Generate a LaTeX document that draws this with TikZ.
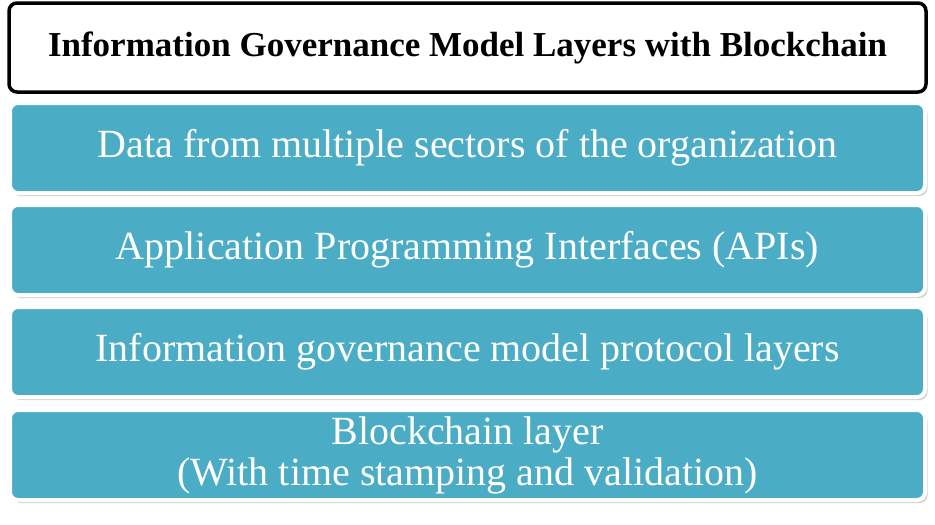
\documentclass[tikz,border=0pt]{standalone}
\usepackage{fontspec}
\setmainfont{Liberation Serif}
\usetikzlibrary{shadows}
\definecolor{layerblue}{HTML}{4BACC6}

\begin{document}
\begin{tikzpicture}[x=1pt, y=-1pt,
	titlebox/.style={draw=black, line width=3.5pt, rounded corners=8pt, fill=white,
		minimum width=917pt, minimum height=89pt, inner sep=0pt,
		font=\fontsize{35}{40}\selectfont\bfseries},
	layerbox/.style={draw=white, line width=4pt, rounded corners=8pt, fill=layerblue,
		minimum width=915pt, minimum height=90pt, inner sep=0pt, text=white,
		align=center, font=\fontsize{40}{41}\selectfont,
		drop shadow={opacity=0.35, shadow xshift=2.5pt, shadow yshift=-3pt}}]
			%%%%% START %%%%%
			
			\useasboundingbox (0, 0) rectangle (935, 525);
			
			\node[titlebox] (title) at (467.5, 47.5) {Information Governance Model Layers with Blockchain};
			
			\node[layerbox] (data) at (467.5, 148) {Data from multiple sectors of the organization};
			\node[layerbox] (apis) at (467.5, 250) {Application Programming Interfaces (APIs)};
			\node[layerbox] (protocol) at (467.5, 352) {Information governance model protocol layers};
			\node[layerbox] (chain) at (467.5, 455) {Blockchain layer\\(With time stamping and validation)};
			
			%%%%% END %%%%%
		\end{tikzpicture}
\end{document}
